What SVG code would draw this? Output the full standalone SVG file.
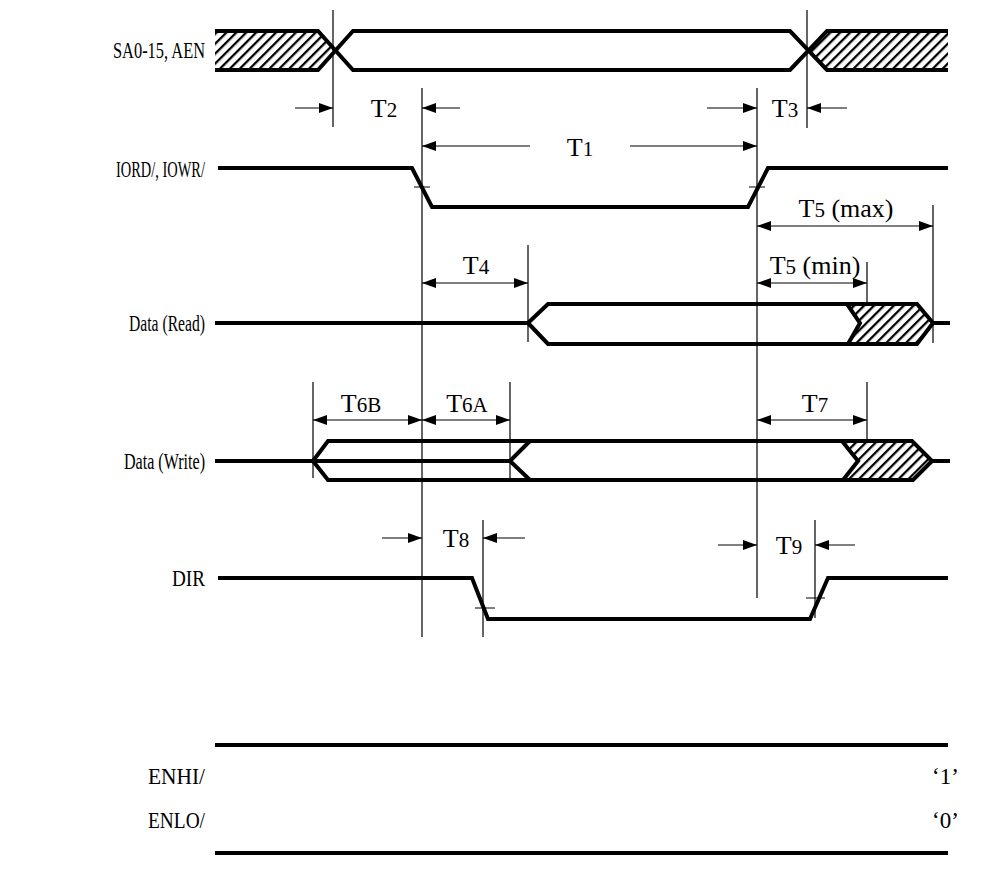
<svg xmlns="http://www.w3.org/2000/svg" width="998" height="871" viewBox="0 0 998 871">
<style>
.sig{fill:none;stroke:#000;stroke-width:4;stroke-linejoin:miter;stroke-linecap:butt}
.thin{fill:none;stroke:#000;stroke-width:1.2}
.hz{fill:url(#hatch);stroke:none}
.lbl{font-family:"Liberation Serif","Times New Roman",serif;font-size:23px;fill:#000}
.tl{font-family:"Liberation Serif","Times New Roman",serif;font-size:26px;fill:#000;text-anchor:middle}
.sm{font-size:21px}
</style>
<defs>
<pattern id="hatch" width="7" height="7" patternUnits="userSpaceOnUse" patternTransform="rotate(45)">
<rect width="7" height="7" fill="#fff"/>
<line x1="1" y1="0" x2="1" y2="7" stroke="#000" stroke-width="2.6"/>
</pattern>
<marker id="ah" viewBox="0 0 14 10" refX="14" refY="5" markerWidth="14" markerHeight="10" markerUnits="userSpaceOnUse" orient="auto-start-reverse">
<path d="M0,0 L14,5 L0,10 Z" fill="#000"/>
</marker>
</defs>

<g id="labels">
<text class="lbl" x="205" y="58" text-anchor="end" textLength="92" lengthAdjust="spacingAndGlyphs">SA0-15, AEN</text>
<text class="lbl" x="205" y="177" text-anchor="end" textLength="89" lengthAdjust="spacingAndGlyphs">IORD/, IOWR/</text>
<text class="lbl" x="205" y="331" text-anchor="end" textLength="76" lengthAdjust="spacingAndGlyphs">Data (Read)</text>
<text class="lbl" x="205" y="469" text-anchor="end" textLength="81" lengthAdjust="spacingAndGlyphs">Data (Write)</text>
<text class="lbl" x="205" y="586" text-anchor="end" textLength="33" lengthAdjust="spacingAndGlyphs">DIR</text>
<text class="lbl" x="205" y="784" text-anchor="end" textLength="57" lengthAdjust="spacingAndGlyphs">ENHI/</text>
<text class="lbl" x="205" y="828" text-anchor="end" textLength="57" lengthAdjust="spacingAndGlyphs">ENLO/</text>
<text class="lbl" x="932" y="784">‘1’</text>
<text class="lbl" x="932" y="828">‘0’</text>
</g>

<g id="sig-sa">
<path class="hz" d="M215,31 L318,31 L335,50 L318,70 L215,70 Z"/>
<path class="hz" d="M827,31 L948,31 L948,70 L827,70 L808,50 Z"/>
<path class="sig" d="M215,31 L318,31 L353,70 L790,70 L827,31 L948,31"/>
<path class="sig" d="M215,70 L318,70 L353,31 L790,31 L827,70 L948,70"/>
</g>

<g id="sig-iord">
<path class="sig" d="M218,168 L412,168 L432,207 L748,207 L768,168 L948,168"/>
<path class="thin" d="M414,187 L430,187 M749,187 L765,187"/>
</g>

<g id="sig-dread">
<path class="hz" d="M847,304 L917,304 L933,323 L917,344 L848,344 L860,323 Z"/>
<path class="sig" d="M215,323 L528,323 L548,304 L917,304 L933,323 L950,323 M528,323 L548,344 L917,344 L933,323"/>
<path class="sig" d="M847,304 L860,323 L848,344"/>
</g>

<g id="sig-dwrite">
<path class="hz" d="M842,441 L912,441 L932,461 L913,480 L843,480 L858,461 Z"/>
<path class="sig" d="M215,461 L313,461 L328,441 L912,441 L932,461 L950,461 M313,461 L328,480 L913,480 L932,461"/>
<path class="sig" d="M313,461 L510,461 L530,441 M510,461 L530,480"/>
<path class="sig" d="M842,441 L858,461 L843,480"/>
</g>

<g id="sig-dir">
<path class="sig" d="M218,578 L472,578 L488,619 L810,619 L828,578 L948,578"/>
<path class="thin" d="M475,608 L495,608 M806,598 L825,598"/>
</g>

<g id="sig-enhi">
<path class="sig" d="M215,745 L948,745"/>
</g>
<g id="sig-enlo">
<path class="sig" d="M215,853 L948,853"/>
</g>

<g id="guides">
<path class="thin" d="M333,10 L333,127 M807,10 L807,128 M422,88 L422,637 M757,88 L757,598 M528,245 L528,342 M933,205 L933,343 M867,262 L867,303 M867,382 L867,441 M313,382 L313,478 M510,382 L510,478 M483,520 L483,637 M815,520 L815,618"/>
</g>

<g id="connectors">
<path class="thin" d="M295,108 L333,108" marker-end="url(#ah)"/>
<path class="thin" d="M460,108 L422,108" marker-end="url(#ah)"/>
<path class="thin" d="M530,146 L422,146" marker-end="url(#ah)"/>
<path class="thin" d="M630,146 L757,146" marker-end="url(#ah)"/>
<path class="thin" d="M707,108 L757,108" marker-end="url(#ah)"/>
<path class="thin" d="M847,108 L807,108" marker-end="url(#ah)"/>
<path class="thin" d="M757,226 L933,226" marker-start="url(#ah)" marker-end="url(#ah)"/>
<path class="thin" d="M757,283 L867,283" marker-start="url(#ah)" marker-end="url(#ah)"/>
<path class="thin" d="M422,283 L528,283" marker-start="url(#ah)" marker-end="url(#ah)"/>
<path class="thin" d="M313,420 L422,420" marker-start="url(#ah)" marker-end="url(#ah)"/>
<path class="thin" d="M422,420 L510,420" marker-start="url(#ah)" marker-end="url(#ah)"/>
<path class="thin" d="M757,420 L867,420" marker-start="url(#ah)" marker-end="url(#ah)"/>
<path class="thin" d="M382,538 L422,538" marker-end="url(#ah)"/>
<path class="thin" d="M525,538 L483,538" marker-end="url(#ah)"/>
<path class="thin" d="M718,545 L757,545" marker-end="url(#ah)"/>
<path class="thin" d="M855,545 L815,545" marker-end="url(#ah)"/>
</g>

<g id="timing-labels">
<text class="tl" x="384" y="117">T<tspan class="sm">2</tspan></text>
<text class="tl" x="580" y="156">T<tspan class="sm">1</tspan></text>
<text class="tl" x="785" y="117">T<tspan class="sm">3</tspan></text>
<text class="tl" x="846" y="217">T<tspan class="sm">5</tspan> (max)</text>
<text class="tl" x="815" y="274">T<tspan class="sm">5</tspan> (min)</text>
<text class="tl" x="476" y="274">T<tspan class="sm">4</tspan></text>
<text class="tl" x="361" y="412">T<tspan class="sm">6B</tspan></text>
<text class="tl" x="467" y="412">T<tspan class="sm">6A</tspan></text>
<text class="tl" x="815" y="412">T<tspan class="sm">7</tspan></text>
<text class="tl" x="456" y="547">T<tspan class="sm">8</tspan></text>
<text class="tl" x="789" y="554">T<tspan class="sm">9</tspan></text>
</g>
</svg>
